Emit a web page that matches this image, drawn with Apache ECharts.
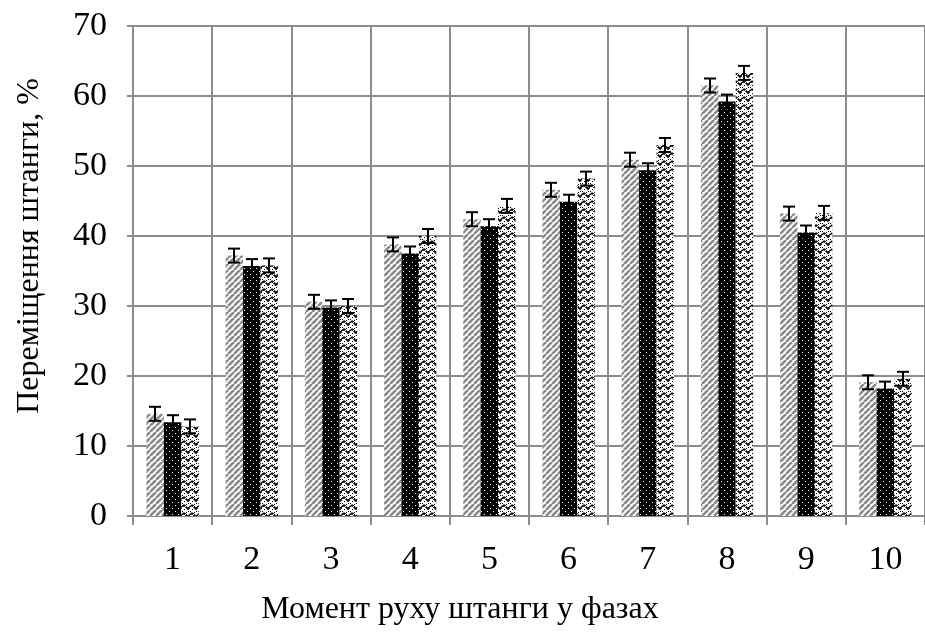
<!DOCTYPE html>
<html><head><meta charset="utf-8">
<script src="https://cdn.jsdelivr.net/npm/echarts@6/dist/echarts.min.js"></script>
<style>html,body{margin:0;padding:0;background:#fff;overflow:hidden}#c{width:925px;height:634px}</style>
</head><body><div id="c"></div>
<script>
const categories = ['1','2','3','4','5','6','7','8','9','10'];
const seriesA = [14.6, 37.2, 30.6, 38.8, 42.4, 46.6, 50.9, 61.5, 43.2, 19.1];
const seriesB = [13.4, 35.7, 29.8, 37.5, 41.4, 44.9, 49.4, 59.2, 40.5, 18.2];
const seriesC = [12.8, 35.8, 30.0, 40.0, 44.3, 48.2, 53.0, 63.3, 43.3, 19.6];
const errA = [1, 1, 1, 1, 1, 1, 1, 1, 1, 1];
const errB = [1, 1, 1, 1, 1, 1, 1, 1, 1, 1];
const errC = [1, 1, 1, 1, 1, 1, 1, 1, 1, 1];
const yTicks = [0, 10, 20, 30, 40, 50, 60, 70];
const xTitle = 'Момент руху штанги у фазах';
const yTitle = 'Переміщення штанги, %';

function mk(w, h, draw) {
  const c = document.createElement('canvas'); c.width = w; c.height = h;
  const ctx = c.getContext('2d'); draw(ctx); return c;
}
const hatch = mk(6, 6, ctx => {
  ctx.fillStyle = '#fff'; ctx.fillRect(0, 0, 6, 6);
  ctx.strokeStyle = '#8a8a8a'; ctx.lineWidth = 2.6;
  for (let k = -6; k <= 12; k += 6) { ctx.beginPath(); ctx.moveTo(k, 6); ctx.lineTo(k + 6, 0); ctx.stroke(); }
});
const dots = mk(6, 6, ctx => {
  ctx.fillStyle = '#000'; ctx.fillRect(0, 0, 6, 6);
  ctx.fillStyle = '#fff'; ctx.fillRect(1, 1, 1, 1); ctx.fillRect(4, 4, 1, 1);
});
const zig = mk(8, 8, ctx => {
  ctx.fillStyle = '#fff'; ctx.fillRect(0, 0, 8, 8);
  ctx.strokeStyle = '#000'; ctx.lineWidth = 1.8;
  ctx.beginPath(); ctx.moveTo(0, 1); ctx.lineTo(4, 5); ctx.lineTo(8, 1); ctx.stroke();
  ctx.beginPath(); ctx.moveTo(-4, 5); ctx.lineTo(0, 9); ctx.stroke();
  ctx.beginPath(); ctx.moveTo(8, 9); ctx.lineTo(12, 5); ctx.stroke();
  ctx.fillStyle = '#000';
  ctx.fillRect(2, 0, 1, 1); ctx.fillRect(6, 7, 1, 1); ctx.fillRect(0, 5, 1, 1); ctx.fillRect(4, 7, 1, 1);
  ctx.fillStyle = '#fff';
  ctx.fillRect(1, 2, 1, 1); ctx.fillRect(6, 3, 1, 1);
});

const barCategoryGap = 0.34;
function errSeries(vals, errs, idx) {
  return {
    type: 'custom', z: 10,
    data: vals.map((v, i) => [i, v, errs[i]]),
    renderItem: function (params, api) {
      const i = api.value(0), v = api.value(1), e = api.value(2);
      const band = api.size([1, 0])[0];
      const bw = band * (1 - barCategoryGap) / 3;
      const c = api.coord([i, v]);
      const x = Math.round(c[0] + (idx - 1) * bw);
      const top = api.coord([i, v + e])[1];
      const bot = api.coord([i, v - e])[1];
      const hw = 6;
      const st = { stroke: '#000', lineWidth: 2 };
      return { type: 'group', children: [
        { type: 'line', shape: { x1: x, y1: top, x2: x, y2: bot }, style: st },
        { type: 'line', shape: { x1: x - hw, y1: top, x2: x + hw, y2: top }, style: st },
        { type: 'line', shape: { x1: x - hw, y1: bot, x2: x + hw, y2: bot }, style: st }
      ]};
    }
  };
}

const chart = echarts.init(document.getElementById('c'), null, { renderer: 'canvas' });
const font = 'Liberation Serif';
const gridCol = '#8c8c8c';
chart.setOption({
  animation: false,
  textStyle: { fontFamily: font },
  grid: { left: 133, top: 26, width: 804, height: 490 },
  graphic: [
    { type: 'text', x: 460, y: 626,
      style: { text: xTitle, font: '32px "Liberation Serif"', fill: '#000', textAlign: 'center', textVerticalAlign: 'bottom' } },
    { type: 'text', x: 30, y: 246, rotation: Math.PI / 2,
      style: { text: yTitle, font: '32px "Liberation Serif"', fill: '#000', textAlign: 'center', textVerticalAlign: 'middle' } }
  ],
  xAxis: {
    type: 'category', data: categories,
    axisLine: { lineStyle: { color: gridCol, width: 2 } },
    axisTick: { show: true, length: 9, lineStyle: { color: gridCol, width: 2 } },
    axisLabel: { fontFamily: font, fontSize: 34, color: '#000', margin: 27 },
    splitLine: { show: true, lineStyle: { color: gridCol, width: 2 } }
  },
  yAxis: {
    type: 'value', min: 0, max: 70, interval: 10,
    axisLine: { show: true, lineStyle: { color: gridCol, width: 2 } },
    axisTick: { show: true, length: 6, lineStyle: { color: gridCol, width: 2 } },
    axisLabel: { fontFamily: font, fontSize: 34, color: '#000', margin: 26,
      formatter: v => yTicks.includes(v) ? String(v) : '' },
    splitLine: { show: true, lineStyle: { color: gridCol, width: 2 } }
  },
  series: [
    { type: 'bar', data: seriesA, barGap: '0%', barCategoryGap: (barCategoryGap * 100) + '%',
      itemStyle: { color: { image: hatch, repeat: 'repeat' } } },
    { type: 'bar', data: seriesB, barGap: '0%', barCategoryGap: (barCategoryGap * 100) + '%',
      itemStyle: { color: { image: dots, repeat: 'repeat' } } },
    { type: 'bar', data: seriesC, barGap: '0%', barCategoryGap: (barCategoryGap * 100) + '%',
      itemStyle: { color: { image: zig, repeat: 'repeat' } } },
    errSeries(seriesA, errA, 0),
    errSeries(seriesB, errB, 1),
    errSeries(seriesC, errC, 2)
  ]
});
</script></body></html>
